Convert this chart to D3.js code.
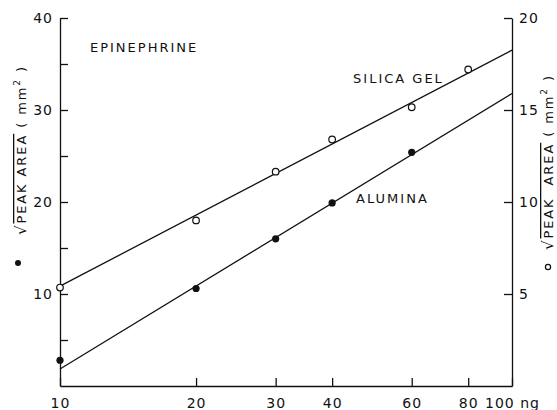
<!DOCTYPE html>
<html>
<head>
<meta charset="utf-8">
<script src="https://cdn.jsdelivr.net/npm/d3@7"></script>
<style>
  body { margin: 0; background: #fff; }
  svg { display: block; }
  .axis path, .axis line { stroke: #111; stroke-width: 1.3; }
  .axis text { font-family: "DejaVu Sans", sans-serif; font-size: 14px; fill: #111; letter-spacing: 1px; }
  .lbl { font-family: "DejaVu Sans", sans-serif; font-size: 13px; fill: #111; letter-spacing: 2px; }
</style>
</head>
<body>
<svg class="chart"></svg>
<script>
// amount injected, ng
var amounts = [10, 20, 30, 40, 60, 80];

// alumina, left axis (filled dots)
var aluminaX = [10, 20, 30, 40, 60];
var aluminaY = [2.8, 10.6, 16.0, 19.9, 25.4];

// silica gel, right axis (open circles)
var silicaX = [10, 20, 30, 40, 60, 80];
var silicaY = [5.35, 9.0, 11.65, 13.4, 15.15, 17.2];

// fitted lines, end points at 10 and 100 ng
var aluminaFit = [[10, 1.85], [100, 31.8]];
var silicaFit = [[10, 5.43], [100, 18.25]];

var xTicks = [10, 20, 30, 40, 60, 80, 100];
var leftTicks = [5, 10, 15, 20, 25, 30, 35, 40];
var rightTicks = [5, 10, 15, 20];

var width = 557,
    height = 410;

var svg = d3.select(".chart").attr("width", width).attr("height", height),
    margin = {top: 18, right: 45, bottom: 24, left: 60},
    w = width - margin.left - margin.right,
    h = height - margin.top - margin.bottom,
    g = svg.append("g").attr("transform", "translate(" + margin.left + "," + margin.top + ")");

var x = d3.scaleLog().domain([10, 100]).range([0, w]);
var yL = d3.scaleLinear().domain([0, 40]).range([h, 0]);
var yR = d3.scaleLinear().domain([0, 20]).range([h, 0]);

// axes, ticks point inward
g.append("g")
    .attr("class", "axis")
    .attr("transform", "translate(0," + h + ")")
    .call(d3.axisBottom(x).tickValues(xTicks).tickSize(-8).tickSizeOuter(0).tickPadding(12)
        .tickFormat(function(d) { return d == 100 ? "100 ng" : d; }));

g.append("g")
    .attr("class", "axis")
    .call(d3.axisLeft(yL).tickValues(leftTicks).tickSize(-8).tickSizeOuter(0).tickPadding(7)
        .tickFormat(function(d) { return d % 10 == 0 ? d : ""; }));

g.append("g")
    .attr("class", "axis")
    .attr("transform", "translate(" + w + ",0)")
    .call(d3.axisRight(yR).tickValues(rightTicks).tickSize(-8).tickSizeOuter(0).tickPadding(7));

g.selectAll(".axis .domain").attr("fill", "none");

// fit lines
var lineL = d3.line().x(function(d) { return x(d[0]); }).y(function(d) { return yL(d[1]); });
var lineR = d3.line().x(function(d) { return x(d[0]); }).y(function(d) { return yR(d[1]); });

g.append("path").attr("d", lineL(aluminaFit)).attr("fill", "none").attr("stroke", "#111").attr("stroke-width", 1.3);
g.append("path").attr("d", lineR(silicaFit)).attr("fill", "none").attr("stroke", "#111").attr("stroke-width", 1.3);

// points
g.selectAll(".alu")
    .data(aluminaX)
  .enter().append("circle")
    .attr("class", "alu")
    .attr("cx", function(d) { return x(d); })
    .attr("cy", function(d, i) { return yL(aluminaY[i]); })
    .attr("r", 3.6)
    .attr("fill", "#111");

g.selectAll(".sil")
    .data(silicaX)
  .enter().append("circle")
    .attr("class", "sil")
    .attr("cx", function(d) { return x(d); })
    .attr("cy", function(d, i) { return yR(silicaY[i]); })
    .attr("r", 3.3)
    .attr("fill", "#fff")
    .attr("stroke", "#111")
    .attr("stroke-width", 1.2);

// annotations
g.append("text").attr("class", "lbl").attr("x", x(11.65)).attr("y", yL(36.3)).text("EPINEPHRINE");
g.append("text").attr("class", "lbl").attr("x", x(44.5)).attr("y", yL(32.9)).text("SILICA GEL");
g.append("text").attr("class", "lbl").attr("x", x(45.2)).attr("y", yL(19.9)).text("ALUMINA");

// rotated axis titles
function yTitle(cx, cy, gap) {
  var t = svg.append("text")
      .attr("class", "lbl")
      .attr("text-anchor", "middle")
      .attr("transform", "translate(" + cx + "," + cy + ") rotate(-90)")
      .style("letter-spacing", "1.9px");
  t.append("tspan").attr("font-size", 15).text("\u221A");
  t.append("tspan").style("text-decoration", "overline").text("PEAK" + gap + "AREA");
  t.append("tspan").text(" ( mm");
  t.append("tspan").attr("dy", -6).attr("font-size", 9).text("2");
  t.append("tspan").attr("dy", 6).text(" )");
}
yTitle(26, 150, " ");
yTitle(553, 162, "\u00A0 ");

svg.append("circle").attr("cx", 18).attr("cy", 263).attr("r", 3).attr("fill", "#111");
svg.append("circle").attr("cx", 548).attr("cy", 267).attr("r", 2.6).attr("fill", "none").attr("stroke", "#111").attr("stroke-width", 1.2);
</script>
</body>
</html>
